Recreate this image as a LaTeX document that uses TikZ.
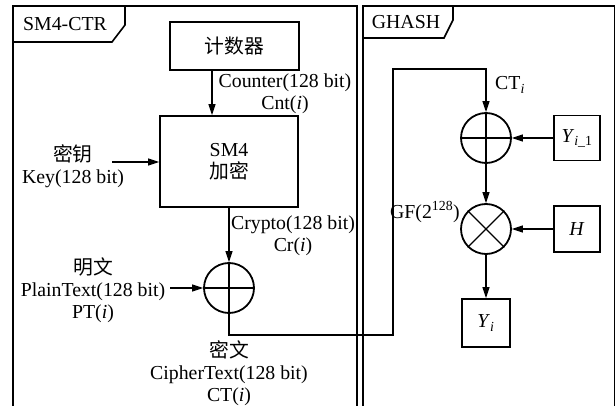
\documentclass[tikz,border=0pt]{standalone}
\usepackage{fontspec}
\setmainfont{Liberation Serif}
\newfontfamily\cjk{Noto Sans CJK SC}
\usetikzlibrary{arrows.meta}
\begin{document}
\begin{tikzpicture}[x=1pt,y=-1pt,
  txt/.style={font=\fontsize{19.8}{22}\selectfont, inner sep=0pt, align=center},
  box/.style={draw, line width=1.8pt, inner sep=0pt, font=\fontsize{19.8}{22}\selectfont, align=center},
  op/.style={draw, circle, line width=1.8pt, minimum size=50pt, inner sep=0pt},
  arr/.style={-{Triangle[length=11pt,width=7pt]}, line width=1.2pt},
  ln/.style={line width=1.2pt},
  frame/.style={line width=1.6pt}]
\useasboundingbox (0,0) rectangle (616,406);
% frames
\draw[frame] (13,406) -- (13,6) -- (357,6) -- (357,406);
\draw[frame] (363,406) -- (363,6) -- (614.5,6) -- (614.5,406);
\draw[frame] (13,42) -- (112,42) -- (125,25) -- (125,6);
\draw[frame] (363,38) -- (444,38) -- (453,20) -- (453,6);
\node[txt] (tab1) at (65,24) {SM4-CTR};
\node[txt] (tab2) at (406,22) {GHASH};
% SM4-CTR part
\node[box, minimum width=129pt, minimum height=48pt] (counter) at (234.5,46) {\cjk 计数器};
\node[box, minimum width=138pt, minimum height=91pt] (sm4) at (229,161.5) {SM4\\{\cjk 加密}};
\coordinate (c1) at (212,0);
\draw[arr] (counter.south -| c1) -- (sm4.north -| c1);
\node[txt] (cntlab) at (285,94) {Counter(128 bit)\\Cnt(\textit{i})};
\node[txt] (keylab) at (73,166) {{\cjk 密钥}\\Key(128 bit)};
\coordinate (k0) at (112,162);
\draw[arr] (k0) -- (sm4.west |- k0);
\node[op] (xor1) at (229,288) {};
\draw[ln] (xor1.north) -- (xor1.south) (xor1.west) -- (xor1.east);
\draw[arr] (sm4.south) -- (xor1.north);
\node[txt] (crlab) at (293,236) {Crypto(128 bit)\\Cr(\textit{i})};
\node[txt] (ptlab) at (93,290) {{\cjk 明文}\\PlainText(128 bit)\\PT(\textit{i})};
\coordinate (p0) at (170,288);
\draw[arr] (p0) -- (xor1.west);
\node[txt] (ctlab) at (229,373) {{\cjk 密文}\\CipherText(128 bit)\\CT(\textit{i})};
% GHASH part
\node[op] (xor2) at (486,138) {};
\draw[ln] (xor2.north) -- (xor2.south) (xor2.west) -- (xor2.east);
\node[op] (gf) at (486,229) {};
\draw[ln] (gf.north west) -- (gf.south east) (gf.north east) -- (gf.south west);
\node[box, minimum width=46pt, minimum height=45pt] (yim1) at (577,138) {\textit{Y}\textsubscript{\textit{i}\_1}};
\node[box, minimum width=46pt, minimum height=46pt] (h) at (577,229) {\textit{H}};
\node[box, minimum width=48pt, minimum height=48pt] (yi) at (486,323) {\textit{Y}\textsubscript{\textit{i}}};
\coordinate (o1) at (393,335);
\coordinate (o2) at (393,69);
\draw[arr] (xor1.south) |- (o1) -- (o2) -| (xor2.north);
\node[txt, anchor=west] (cti) at (495,85) {CT\textsubscript{\textit{i}}};
\draw[arr] (yim1.west) -- (xor2.east);
\draw[arr] (xor2.south) -- (gf.north);
\draw[arr] (h.west) -- (gf.east);
\draw[arr] (gf.south) -- (yi.north);
\node[txt, anchor=east] (gflab) at (460,212) {GF(2\textsuperscript{128})};
\end{tikzpicture}
\end{document}
